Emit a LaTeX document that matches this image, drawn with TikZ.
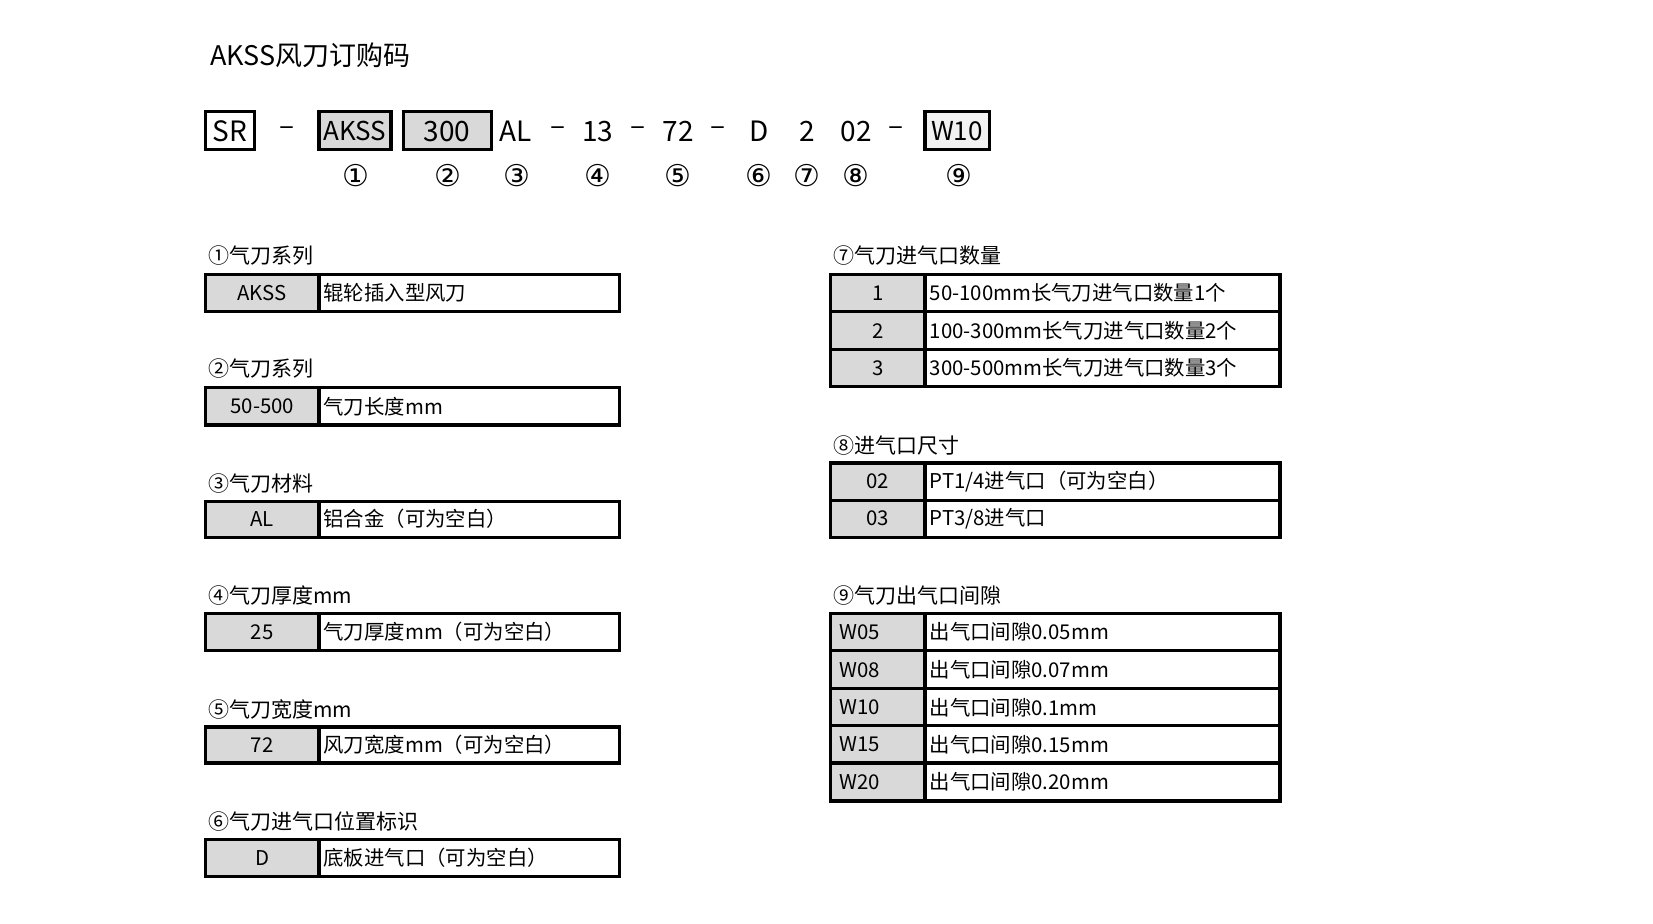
\documentclass[tikz,border=0pt]{standalone}
\usepackage{fontspec}
\setmainfont{Noto Sans CJK SC}
\newfontfamily\sym{DejaVu Sans}
\tikzset{
  cell/.style={draw=black,line width=1.6pt},
  gcell/.style={cell,fill=gray!30},
  txt/.style={font=\fontsize{10.2}{12}\selectfont,inner sep=0pt},
  big/.style={font=\fontsize{14}{16}\selectfont,inner sep=0pt},
  hdr/.style={font=\fontsize{10.5}{12}\selectfont,inner sep=0pt,anchor=west},
}
\newcommand\trow[9]{% x1 xs x2 y1 y2 label text name labelalign
  \draw[gcell] (#1,#4) rectangle (#2,#5);
  \draw[cell] (#2,#4) rectangle (#3,#5);
  \ifx c#9
    \node[txt] (#8l) at ({(#1+#2)/2},{(#4+#5)/2}) {#6};
  \else
    \node[txt,anchor=west] (#8l) at (#1+8,{(#4+#5)/2}) {#6};
  \fi
  \node[txt,anchor=west] (#8t) at (#2+4,{(#4+#5)/2}) {#7};
}
\begin{document}
\begin{tikzpicture}[x=0.53pt,y=-0.53pt]
\useasboundingbox (0,0) rectangle (1560,872);
\node[font=\fontsize{13.5}{15}\selectfont,anchor=west,inner sep=0pt] (title) at (198,52) {AKSS风刀订购码};
% code row
\draw[cell] (194,105) rectangle (240,141);
\draw[cell,fill=gray!30] (301,105) rectangle (369,141);
\draw[cell,fill=gray!30] (381,105) rectangle (464,141);
\draw[cell,fill=gray!10] (873,105) rectangle (934,141);
\node[big] (sr) at (217,124) {SR};
\node[big,font=\fontsize{13}{16}\selectfont] (akss) at (335,124) {AKSS};
\node[big] (n300) at (422,124) {300};
\node[big,font=\fontsize{13}{16}\selectfont] (w10) at (903,124) {W10};
\node[big] (d1) at (271,124) {–};
\node[big] (al) at (487,124) {AL};
\node[big] (d2) at (527,124) {–};
\node[big] (n13) at (564,124) {13};
\node[big] (d3) at (602,124) {–};
\node[big] (n72) at (640,124) {72};
\node[big] (d4) at (678,124) {–};
\node[big] (dd) at (716,124) {D};
\node[big] (n2) at (762,124) {2};
\node[big] (n02) at (808,124) {02};
\node[big] (d5) at (846,124) {–};
\foreach \n/\x/\c in {1/336/①,2/423/②,3/488/③,4/564/④,5/640/⑤,6/716/⑥,7/762/⑦,8/808/⑧,9/905/⑨}
  \node[font=\sym\fontsize{15}{16}\selectfont,inner sep=0pt] (c\n) at (\x,166) {\c};
% left tables
\node[hdr] (h1) at (196,241) {①气刀系列};
\trow{194}{301}{585}{259}{294}{AKSS}{辊轮插入型风刀}{r1}{c}
\node[hdr] (h2) at (196,348) {②气刀系列};
\trow{194}{301}{585}{366}{401}{50-500}{气刀长度mm}{r2}{c}
\node[hdr] (h3) at (196,456) {③气刀材料};
\trow{194}{301}{585}{473}{507}{AL}{铝合金（可为空白）}{r3}{c}
\node[hdr] (h4) at (196,562) {④气刀厚度mm};
\trow{194}{301}{585}{579}{614}{25}{气刀厚度mm（可为空白）}{r4}{c}
\node[hdr] (h5) at (196,670) {⑤气刀宽度mm};
\trow{194}{301}{585}{686}{720}{72}{风刀宽度mm（可为空白）}{r5}{c}
\node[hdr] (h6) at (196,775) {⑥气刀进气口位置标识};
\trow{194}{301}{585}{792}{827}{D}{底板进气口（可为空白）}{r6}{c}
% right tables
\node[hdr] (h7) at (786,241) {⑦气刀进气口数量};
\trow{784}{873}{1208}{259}{294}{1}{50-100mm长气刀进气口数量1个}{s1}{c}
\trow{784}{873}{1208}{294}{330}{2}{100-300mm长气刀进气口数量2个}{s2}{c}
\trow{784}{873}{1208}{330}{365}{3}{300-500mm长气刀进气口数量3个}{s3}{c}
\node[hdr] (h8) at (786,420) {⑧进气口尺寸};
\trow{784}{873}{1208}{437}{472}{02}{PT1/4进气口（可为空白）}{t1}{c}
\trow{784}{873}{1208}{472}{507}{03}{PT3/8进气口}{t2}{c}
\node[hdr] (h9) at (786,562) {⑨气刀出气口间隙};
\trow{784}{873}{1208}{579}{614}{W05}{出气口间隙0.05mm}{u1}{l}
\trow{784}{873}{1208}{614}{650}{W08}{出气口间隙0.07mm}{u2}{l}
\trow{784}{873}{1208}{650}{685}{W10}{出气口间隙0.1mm}{u3}{l}
\trow{784}{873}{1208}{685}{720}{W15}{出气口间隙0.15mm}{u4}{l}
\trow{784}{873}{1208}{720}{756}{W20}{出气口间隙0.20mm}{u5}{l}
\end{tikzpicture}
\end{document}
